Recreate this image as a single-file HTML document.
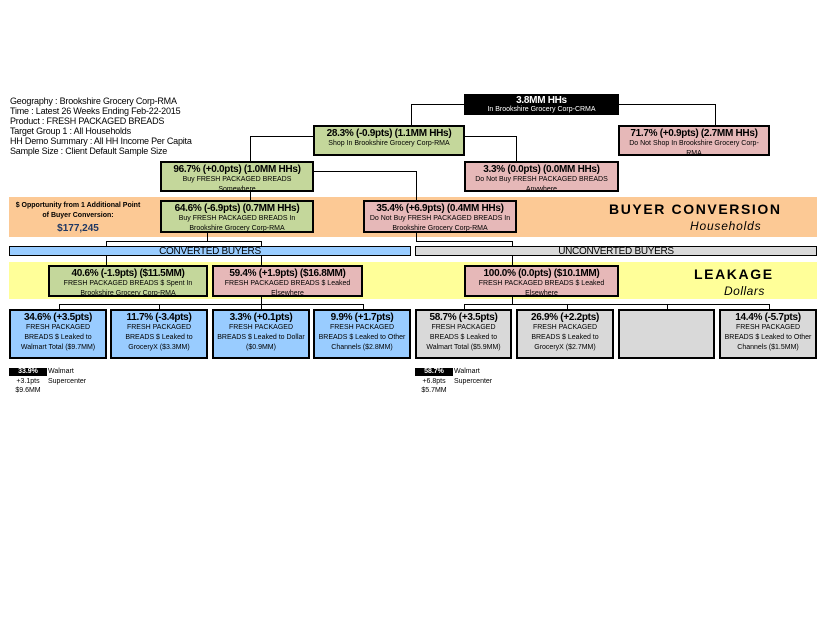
<!DOCTYPE html>
<html><head><meta charset="utf-8"><style>
*{margin:0;padding:0;box-sizing:border-box}
body{width:825px;height:638px;background:#fff;position:relative;overflow:hidden;font-family:"Liberation Sans",Arial,sans-serif;color:#000}
.a{position:absolute}
.b{position:absolute;border:2px solid #000;text-align:center;font-size:7px;line-height:10px;white-space:nowrap;overflow:hidden}
.b .t{font-size:10px;line-height:11px;font-weight:bold;letter-spacing:-0.3px}
.h{position:absolute;background:#000;width:1px}
.w{position:absolute;background:#000;height:1px}
.g{background:#c4d79b}.p{background:#e6b8b8}.bl{background:#99ccff}.gr{background:#d9d9d9}
.hdr{position:absolute;left:10px;top:96px;font-size:9px;line-height:10px;letter-spacing:-0.2px}
.bar{position:absolute;border:1px solid #000;font-size:10px;line-height:9px;text-align:center;letter-spacing:-0.3px}
</style></head><body>
<div class="hdr">Geography : Brookshire Grocery Corp-RMA<br>Time : Latest 26 Weeks Ending Feb-22-2015<br>Product : FRESH PACKAGED BREADS<br>Target Group 1 : All Households<br>HH Demo Summary : All HH Income Per Capita<br>Sample Size : Client Default Sample Size</div>

<div class="a" style="left:9px;top:197px;width:808px;height:40px;background:#fcc995"></div>
<div class="a" style="left:9px;top:262px;width:808px;height:37px;background:#ffff99"></div>

<div class="a" style="left:8px;top:201px;width:140px;text-align:center;font-size:7px;line-height:10px;font-weight:bold;white-space:nowrap">$ Opportunity from 1 Additional Point<br>of Buyer Conversion:</div>
<div class="a" style="left:8px;top:223px;width:140px;text-align:center;font-size:10px;color:#1f3864;font-weight:bold">$177,245</div>
<div class="a" style="left:609px;top:201px;font-size:14px;font-weight:bold;letter-spacing:1.6px">BUYER CONVERSION</div>
<div class="a" style="left:690px;top:219px;font-size:12px;font-style:italic;letter-spacing:0.8px">Households</div>
<div class="a" style="left:694px;top:266px;font-size:14px;font-weight:bold;letter-spacing:1.6px">LEAKAGE</div>
<div class="a" style="left:724px;top:284px;font-size:12px;font-style:italic;letter-spacing:0.5px">Dollars</div>

<!-- connectors -->
<div class="w" style="left:411px;top:104px;width:53px"></div><div class="h" style="left:411px;top:104px;height:21px"></div>
<div class="w" style="left:619px;top:104px;width:96px"></div><div class="h" style="left:715px;top:104px;height:21px"></div>
<div class="h" style="left:250px;top:136px;height:25px"></div><div class="w" style="left:250px;top:136px;width:64px"></div>
<div class="w" style="left:464px;top:136px;width:52px"></div><div class="h" style="left:516px;top:136px;height:25px"></div>
<div class="h" style="left:250px;top:192px;height:8px"></div>
<div class="w" style="left:313px;top:171px;width:103px"></div><div class="h" style="left:416px;top:171px;height:29px"></div>
<div class="h" style="left:207px;top:233px;height:8px"></div><div class="w" style="left:106px;top:241px;width:156px"></div>
<div class="h" style="left:106px;top:241px;height:5px"></div><div class="h" style="left:261px;top:241px;height:5px"></div>
<div class="h" style="left:416px;top:233px;height:8px"></div><div class="w" style="left:416px;top:241px;width:97px"></div><div class="h" style="left:512px;top:241px;height:5px"></div>
<div class="h" style="left:106px;top:256px;height:9px"></div><div class="h" style="left:261px;top:256px;height:9px"></div><div class="h" style="left:512px;top:256px;height:9px"></div>
<div class="h" style="left:261px;top:297px;height:7px"></div><div class="w" style="left:59px;top:304px;width:305px"></div>
<div class="h" style="left:59px;top:304px;height:5px"></div><div class="h" style="left:159px;top:304px;height:5px"></div><div class="h" style="left:261px;top:304px;height:5px"></div><div class="h" style="left:363px;top:304px;height:5px"></div>
<div class="h" style="left:512px;top:297px;height:7px"></div><div class="w" style="left:464px;top:304px;width:306px"></div>
<div class="h" style="left:464px;top:304px;height:5px"></div><div class="h" style="left:567px;top:304px;height:5px"></div><div class="h" style="left:667px;top:304px;height:5px"></div><div class="h" style="left:769px;top:304px;height:5px"></div>

<!-- boxes -->
<div class="b" style="left:464px;top:94px;width:155px;height:21px;background:#000;color:#fff;line-height:8px"><div class="t" style="line-height:10px">3.8MM HHs</div>In Brookshire Grocery Corp-CRMA</div>
<div class="b g" style="left:313px;top:125px;width:152px;height:31px;padding-top:1px"><div class="t">28.3% (-0.9pts) (1.1MM HHs)</div>Shop In Brookshire Grocery Corp-RMA</div>
<div class="b p" style="left:618px;top:125px;width:152px;height:31px;padding-top:1px"><div class="t">71.7% (+0.9pts) (2.7MM HHs)</div>Do Not Shop In Brookshire Grocery Corp-<br>RMA</div>
<div class="b g" style="left:160px;top:161px;width:154px;height:31px;padding-top:1px"><div class="t">96.7% (+0.0pts) (1.0MM HHs)</div>Buy FRESH PACKAGED BREADS<br>Somewhere</div>
<div class="b p" style="left:464px;top:161px;width:155px;height:31px;padding-top:1px"><div class="t">3.3% (0.0pts) (0.0MM HHs)</div>Do Not Buy FRESH PACKAGED BREADS<br>Anywhere</div>
<div class="b g" style="left:160px;top:200px;width:154px;height:33px;padding-top:1px"><div class="t">64.6% (-6.9pts) (0.7MM HHs)</div>Buy FRESH PACKAGED BREADS In<br>Brookshire Grocery Corp-RMA</div>
<div class="b p" style="left:363px;top:200px;width:154px;height:33px;padding-top:1px"><div class="t">35.4% (+6.9pts) (0.4MM HHs)</div>Do Not Buy FRESH PACKAGED BREADS In<br>Brookshire Grocery Corp-RMA</div>

<div class="bar bl" style="left:9px;top:246px;width:402px;height:10px">CONVERTED BUYERS</div>
<div class="bar gr" style="left:415px;top:246px;width:402px;height:10px">UNCONVERTED BUYERS</div>

<div class="b g" style="left:48px;top:265px;width:160px;height:32px;padding-top:1px"><div class="t">40.6% (-1.9pts) ($11.5MM)</div>FRESH PACKAGED BREADS $ Spent In<br>Brookshire Grocery Corp-RMA</div>
<div class="b p" style="left:212px;top:265px;width:151px;height:32px;padding-top:1px"><div class="t">59.4% (+1.9pts) ($16.8MM)</div>FRESH PACKAGED BREADS $ Leaked<br>Elsewhere</div>
<div class="b p" style="left:464px;top:265px;width:155px;height:32px;padding-top:1px"><div class="t">100.0% (0.0pts) ($10.1MM)</div>FRESH PACKAGED BREADS $ Leaked<br>Elsewhere</div>

<div class="b bl" style="left:9px;top:309px;width:98px;height:50px;padding-top:1px"><div class="t">34.6% (+3.5pts)</div>FRESH PACKAGED<br>BREADS $ Leaked to<br>Walmart Total ($9.7MM)</div>
<div class="b bl" style="left:110px;top:309px;width:98px;height:50px;padding-top:1px"><div class="t">11.7% (-3.4pts)</div>FRESH PACKAGED<br>BREADS $ Leaked to<br>GroceryX ($3.3MM)</div>
<div class="b bl" style="left:212px;top:309px;width:98px;height:50px;padding-top:1px"><div class="t">3.3% (+0.1pts)</div>FRESH PACKAGED<br>BREADS $ Leaked to Dollar<br>($0.9MM)</div>
<div class="b bl" style="left:313px;top:309px;width:98px;height:50px;padding-top:1px"><div class="t">9.9% (+1.7pts)</div>FRESH PACKAGED<br>BREADS $ Leaked to Other<br>Channels ($2.8MM)</div>
<div class="b gr" style="left:415px;top:309px;width:97px;height:50px;padding-top:1px"><div class="t">58.7% (+3.5pts)</div>FRESH PACKAGED<br>BREADS $ Leaked to<br>Walmart Total ($5.9MM)</div>
<div class="b gr" style="left:516px;top:309px;width:98px;height:50px;padding-top:1px"><div class="t">26.9% (+2.2pts)</div>FRESH PACKAGED<br>BREADS $ Leaked to<br>GroceryX ($2.7MM)</div>
<div class="b gr" style="left:618px;top:309px;width:97px;height:50px"></div>
<div class="b gr" style="left:719px;top:309px;width:98px;height:50px;padding-top:1px"><div class="t">14.4% (-5.7pts)</div>FRESH PACKAGED<br>BREADS $ Leaked to Other<br>Channels ($1.5MM)</div>

<div class="a" style="left:9px;top:368px;width:38px;height:8px;background:#000;color:#fff;font-size:7px;line-height:8px;text-align:center;font-weight:bold">33.9%</div>
<div class="a" style="left:9px;top:377px;width:38px;font-size:7px;line-height:9px;text-align:center">+3.1pts<br>$9.6MM</div>
<div class="a" style="left:48px;top:367px;font-size:7px;line-height:10px">Walmart<br>Supercenter</div>
<div class="a" style="left:415px;top:368px;width:38px;height:8px;background:#000;color:#fff;font-size:7px;line-height:8px;text-align:center;font-weight:bold">58.7%</div>
<div class="a" style="left:415px;top:377px;width:38px;font-size:7px;line-height:9px;text-align:center">+6.8pts<br>$5.7MM</div>
<div class="a" style="left:454px;top:367px;font-size:7px;line-height:10px">Walmart<br>Supercenter</div>
</body></html>
